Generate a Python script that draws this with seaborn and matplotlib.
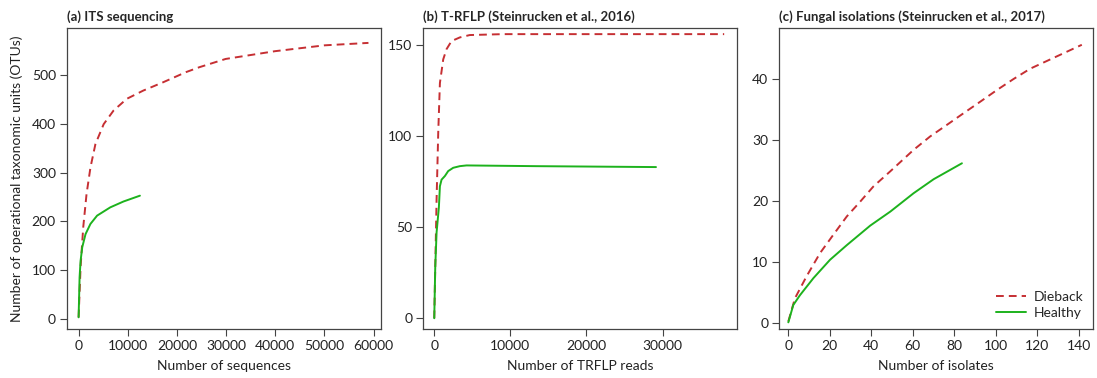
import matplotlib
matplotlib.use("Agg")
import matplotlib.pyplot as plt
import seaborn as sns
import pandas as pd

sns.set_theme(style="white")
plt.rcParams["font.family"] = ["Lato", "DejaVu Sans"]

# (a) ITS sequencing rarefaction
its_dieback_x = [0, 400, 940, 1610, 2410, 3420, 5100, 7110, 9790, 13150, 17170, 21860,
                 24550, 29900, 39970, 50030, 58950]
its_dieback_y = [3, 106, 188, 256, 311, 359, 400, 428, 452, 469, 486, 507,
                 517, 534, 550, 562, 567]
its_healthy_x = [0, 200, 400, 740, 1410, 2410, 3760, 6440, 9120, 12470]
its_healthy_y = [3, 85, 119, 147, 174, 195, 212, 229, 241, 253]

# (b) T-RFLP rarefaction
trflp_dieback_x = [0, 305, 524, 743, 1180, 1620, 2270, 3360, 4670, 9040, 38100]
trflp_dieback_y = [0, 65, 102, 129, 142, 147.6, 152, 154, 155.3, 155.8, 155.8]
trflp_healthy_x = [0, 130, 305, 610, 743, 960, 1400, 1830, 2490, 3360, 4240, 13410, 29140]
trflp_healthy_y = [0, 28, 47, 61, 72.4, 76, 78, 80.7, 82.5, 83.4, 83.8, 83.4, 82.9]

# (c) Fungal isolation accumulation
iso_dieback_x = [0, 3.2, 8.8, 15.3, 21.7, 28.2, 34.6, 41.0, 49.2, 60.4,
                 68.4, 76.5, 84.5, 92.6, 100.6, 108.6, 116.7, 141.5]
iso_dieback_y = [0.3, 4.1, 7.7, 11.5, 14.5, 17.5, 19.9, 22.4, 24.9, 28.4,
                 30.6, 32.5, 34.4, 36.3, 38.2, 40.0, 41.7, 45.6]
iso_healthy_x = [0, 2.4, 5.6, 12.1, 20.1, 28.2, 39.5, 49.2, 60.4, 70.1, 83.7]
iso_healthy_y = [0.16, 3.0, 4.6, 7.4, 10.4, 12.8, 16.0, 18.3, 21.3, 23.6, 26.2]

titles = ["(a) ITS sequencing",
          "(b) T-RFLP (Steinrucken et al., 2016)",
          "(c) Fungal isolations (Steinrucken et al., 2017)"]
xlabels = ["Number of sequences", "Number of TRFLP reads", "Number of isolates"]
ylabel = "Number of operational taxonomic units (OTUs)"

panels = [
    (its_dieback_x, its_dieback_y, its_healthy_x, its_healthy_y,
     (-2360, 61400), (-21, 597), [0, 10000, 20000, 30000, 40000, 50000, 60000], [0, 100, 200, 300, 400, 500]),
    (trflp_dieback_x, trflp_dieback_y, trflp_healthy_x, trflp_healthy_y,
     (-1440, 39760), (-5.9, 159), [0, 10000, 20000, 30000], [0, 50, 100, 150]),
    (iso_dieback_x, iso_dieback_y, iso_healthy_x, iso_healthy_y,
     (-4.35, 146.8), (-0.93, 48.3), [0, 20, 40, 60, 80, 100, 120, 140], [0, 10, 20, 30, 40]),
]

RED = "#C62F33"
GREEN = "#1DB21D"
FRAME = "#444444"
TXT = "#222222"
FS = 10

fig = plt.figure(figsize=(10.97, 3.78), dpi=100)
lefts = [67 / 1097, 423.3 / 1097, 779.3 / 1097]
width = 313.5 / 1097
bottom = 1 - 329 / 378
height = (329 - 28.3) / 378

for i, (dx, dy, hx, hy, xlim, ylim, xt, yt) in enumerate(panels):
    ax = fig.add_axes([lefts[i], bottom, width, height])
    dd = pd.DataFrame({"x": dx, "y": dy})
    hd = pd.DataFrame({"x": hx, "y": hy})
    sns.lineplot(data=dd, x="x", y="y", ax=ax, color=RED, lw=1.4,
                 dashes=(4, 2.6), label="Dieback", sort=False)
    sns.lineplot(data=hd, x="x", y="y", ax=ax, color=GREEN, lw=1.4,
                 label="Healthy", sort=False)
    ax.set_xlim(*xlim)
    ax.set_ylim(*ylim)
    ax.set_xticks(xt)
    ax.set_yticks(yt)
    ax.set_xlabel(xlabels[i], fontsize=FS, color=TXT, labelpad=6)
    ax.set_ylabel(ylabel if i == 0 else "", fontsize=FS, color=TXT, labelpad=6)
    ax.set_title(titles[i], loc="left", fontsize=9.5, fontweight="bold", pad=5, x=0.0)
    ax.tick_params(axis="both", which="major", direction="out", length=5, width=0.8,
                   color=FRAME, labelsize=FS, labelcolor=TXT, pad=3,
                   bottom=True, left=True)
    for s in ax.spines.values():
        s.set_color(FRAME)
        s.set_linewidth(0.9)
    if i == 2:
        ax.legend(loc="lower right", frameon=False, fontsize=FS,
                  handlelength=2.2, handletextpad=0.5, borderaxespad=0.3,
                  labelspacing=0.3)
    else:
        ax.get_legend().remove()

fig.savefig("out.png", dpi=100)
